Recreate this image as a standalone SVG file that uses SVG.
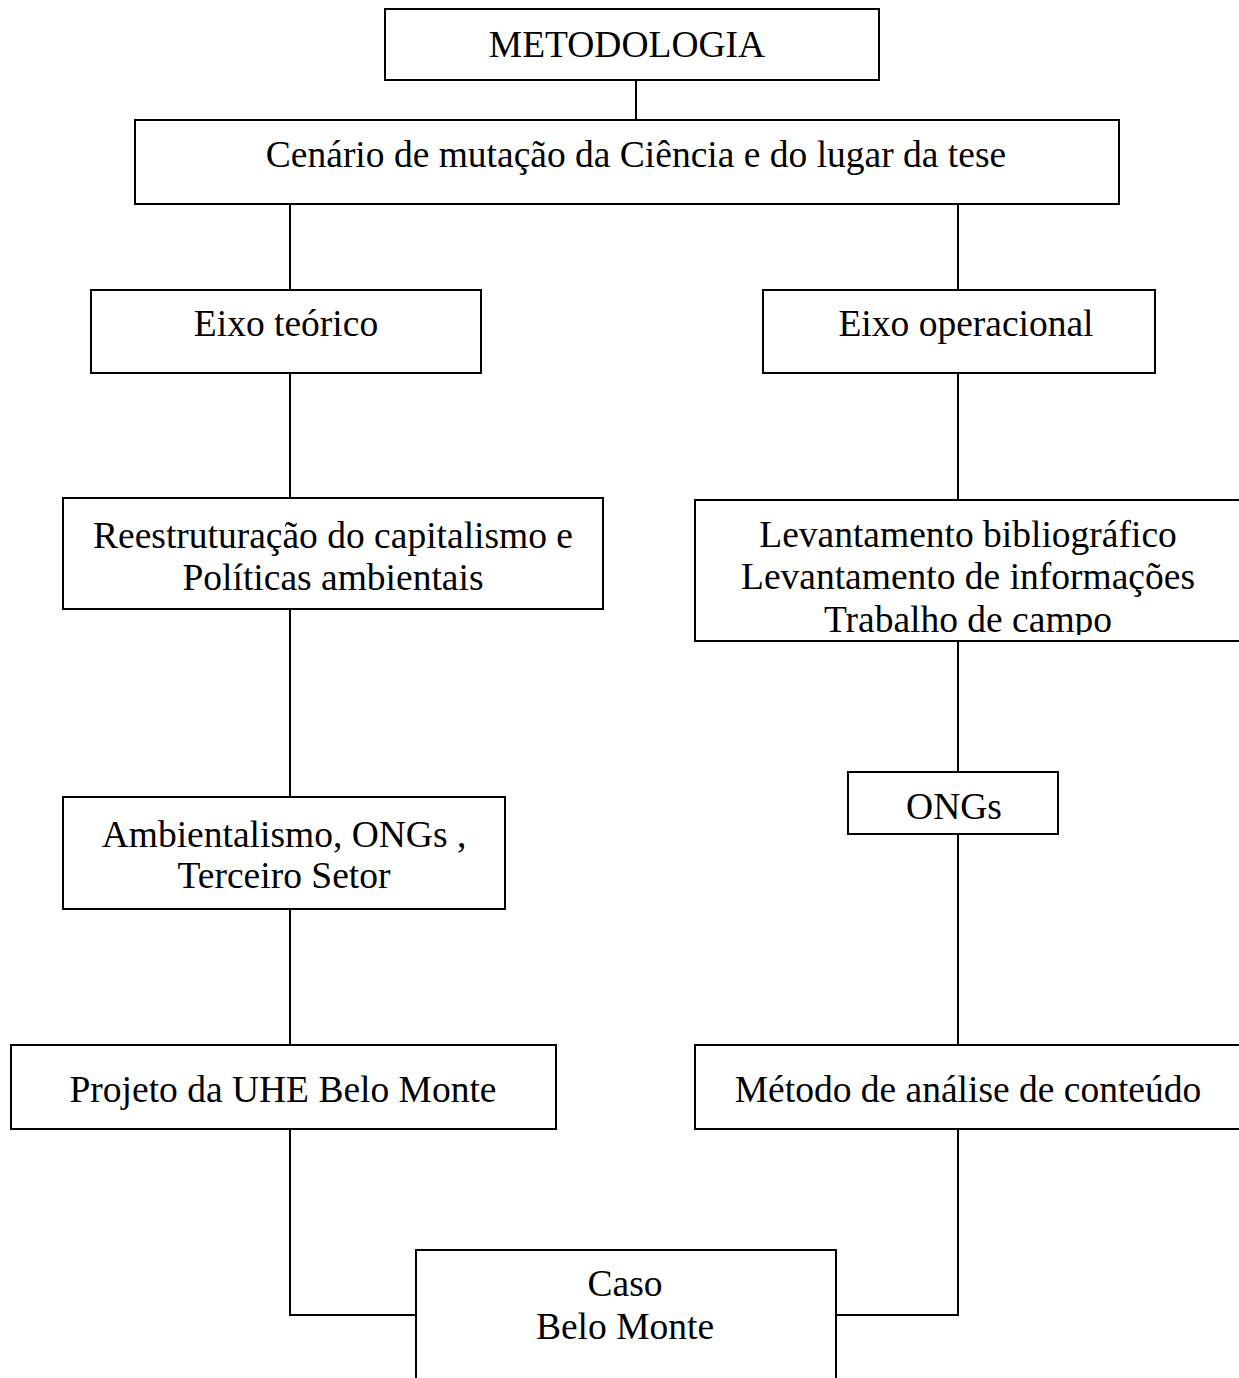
<svg xmlns="http://www.w3.org/2000/svg" width="1239" height="1378" viewBox="0 0 1239 1378">
<style>
.box{fill:#fff;stroke:#000;stroke-width:2}
.ln{fill:none;stroke:#000;stroke-width:2}
text{font-family:"Liberation Serif","Times New Roman",serif;font-size:37.5px;fill:#000;text-anchor:middle}
</style>
<defs>
<clipPath id="clipLev"><rect x="695" y="500" width="560" height="135"/></clipPath>
</defs>
<rect x="0" y="0" width="1239" height="1378" fill="#fff"/>
<g id="connectors">
<line class="ln" x1="636" y1="80" x2="636" y2="120"/>
<line class="ln" x1="290" y1="204" x2="290" y2="290"/>
<line class="ln" x1="958" y1="204" x2="958" y2="290"/>
<line class="ln" x1="290" y1="373" x2="290" y2="498"/>
<line class="ln" x1="958" y1="373" x2="958" y2="500"/>
<line class="ln" x1="290" y1="609" x2="290" y2="797"/>
<line class="ln" x1="958" y1="641" x2="958" y2="772"/>
<line class="ln" x1="290" y1="909" x2="290" y2="1045"/>
<line class="ln" x1="958" y1="834" x2="958" y2="1045"/>
<polyline class="ln" points="290,1129 290,1315 416,1315"/>
<polyline class="ln" points="958,1129 958,1315 836,1315"/>
</g>
<g id="metodologia">
<rect class="box" x="385" y="9" width="494" height="71"/>
<text x="627" y="57">METODOLOGIA</text>
</g>
<g id="cenario">
<rect class="box" x="135" y="120" width="984" height="84"/>
<text x="636" y="167">Cenário de mutação da Ciência e do lugar da tese</text>
</g>
<g id="eixo-teorico">
<rect class="box" x="91" y="290" width="390" height="83"/>
<text x="286" y="336">Eixo teórico</text>
</g>
<g id="eixo-operacional">
<rect class="box" x="763" y="290" width="392" height="83"/>
<text x="966" y="336">Eixo operacional</text>
</g>
<g id="reestruturacao">
<rect class="box" x="63" y="498" width="540" height="111"/>
<text x="333" y="548">Reestruturação do capitalismo e</text>
<text x="333" y="590">Políticas ambientais</text>
</g>
<g id="levantamento">
<rect class="box" x="695" y="500" width="560" height="141"/>
<g clip-path="url(#clipLev)">
<text x="968" y="547">Levantamento bibliográfico</text>
<text x="968" y="589">Levantamento de informações</text>
<text x="968" y="632">Trabalho de campo</text>
</g>
</g>
<g id="ambientalismo">
<rect class="box" x="63" y="797" width="442" height="112"/>
<text x="284" y="847">Ambientalismo, ONGs ,</text>
<text x="284" y="888">Terceiro Setor</text>
</g>
<g id="ongs">
<rect class="box" x="848" y="772" width="210" height="62"/>
<text x="954" y="819">ONGs</text>
</g>
<g id="projeto">
<rect class="box" x="11" y="1045" width="545" height="84"/>
<text x="283" y="1102">Projeto da UHE Belo Monte</text>
</g>
<g id="metodo">
<rect class="box" x="695" y="1045" width="560" height="84"/>
<text x="968" y="1102">Método de análise de conteúdo</text>
</g>
<g id="caso">
<rect class="box" x="416" y="1250" width="420" height="150"/>
<text x="625" y="1296">Caso</text>
<text x="625" y="1339">Belo Monte</text>
</g>
</svg>
